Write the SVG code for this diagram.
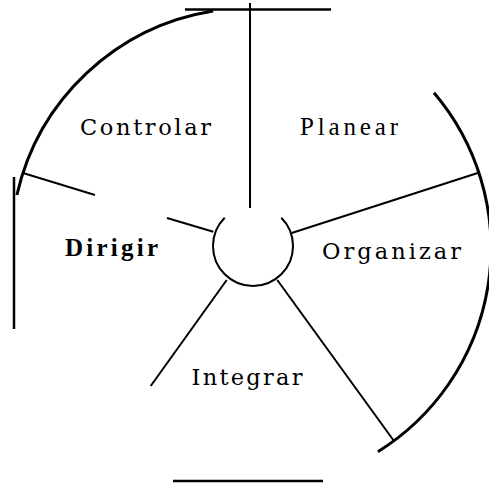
<svg xmlns="http://www.w3.org/2000/svg" width="489" height="484" viewBox="0 0 489 484">
<style>
.ln{stroke:#000;fill:none;stroke-linecap:butt}
.arc{stroke-width:3}
.sp{stroke-width:2}
.rule{stroke-width:2.5}
.t{font-family:"Liberation Serif","DejaVu Serif",serif;font-size:25px;fill:#000}
.d{font-family:"DejaVu Serif","Liberation Serif",serif;font-size:22.5px}
.b{font-weight:bold}
</style>
<rect width="489" height="484" fill="#fff"/>
<g id="connectors">
<path class="ln arc" d="M16.9,195 A240,240 0 0,1 213.2,11"/>
<path class="ln arc" d="M434,92.7 A240,240 0 0,1 377.9,451.7"/>
<path class="ln sp" d="M224.7,217.7 A40,40 0 1,0 281.3,217.7"/>
<line class="ln sp" x1="250" y1="3" x2="250" y2="208"/>
<line class="ln rule" x1="185" y1="9.5" x2="331" y2="9.5"/>
<line class="ln rule" x1="14" y1="177" x2="14" y2="329"/>
<line class="ln rule" x1="173" y1="481" x2="323" y2="481"/>
<line class="ln sp" x1="23" y1="173" x2="95" y2="195"/>
<line class="ln sp" x1="167" y1="218" x2="213.3" y2="231.7"/>
<line class="ln sp" x1="291.7" y1="233" x2="478.5" y2="172.7"/>
<line class="ln sp" x1="277.3" y1="280" x2="394" y2="441"/>
<line class="ln sp" x1="226.7" y1="280" x2="150.7" y2="386"/>
</g>
<g id="controlar"><text class="t d" x="80" y="135" textLength="131" lengthAdjust="spacing">Controlar</text></g>
<g id="planear"><text class="t" x="300" y="135" textLength="98" lengthAdjust="spacing">Planear</text></g>
<g id="dirigir"><text class="t b" x="65" y="256" textLength="93" lengthAdjust="spacing">Dirigir</text></g>
<g id="organizar"><text class="t d" x="322" y="258.5" textLength="139" lengthAdjust="spacing">Organizar</text></g>
<g id="integrar"><text class="t d" x="191.5" y="385" textLength="111" lengthAdjust="spacing">Integrar</text></g>
</svg>
